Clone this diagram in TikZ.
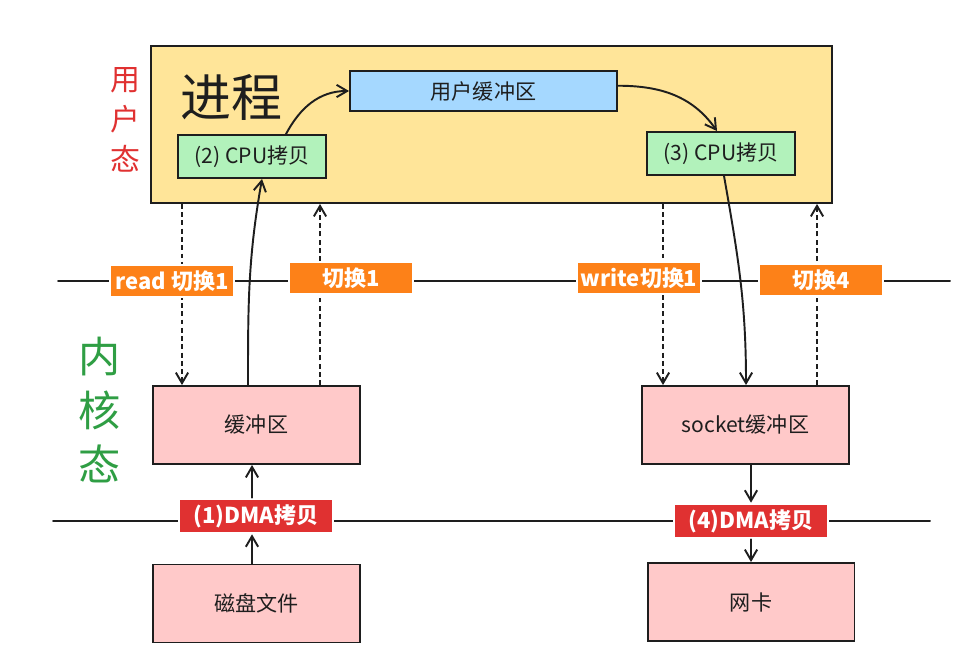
\documentclass[tikz,border=0pt]{standalone}
\usepackage{fontspec}
\setmainfont{Noto Sans CJK SC}
\usetikzlibrary{arrows.meta,backgrounds}
\definecolor{pyellow}{HTML}{FFE599}
\definecolor{ublue}{HTML}{A5D8FF}
\definecolor{cgreen}{HTML}{B2F2BB}
\definecolor{kpink}{HTML}{FFC9C9}
\definecolor{sorange}{HTML}{FD8118}
\definecolor{dred}{HTML}{E03131}
\definecolor{ured}{HTML}{E03131}
\definecolor{kgreen}{HTML}{2F9E44}
\definecolor{ink}{HTML}{1E1E1E}
\tikzset{
  box/.style={draw=ink, line width=1.1pt, inner sep=0pt, text=ink},
  cpubox/.style={box, fill=cgreen, minimum width=2.96cm, minimum height=0.86cm},
  pinkbox/.style={box, fill=kpink, minimum width=4.14cm, minimum height=1.56cm},
  swtag/.style={fill=sorange, draw=white, line width=1.5pt, text=white, inner sep=0pt,
    font=\fontsize{12.5}{14}\selectfont\bfseries, minimum width=2.48cm, minimum height=0.64cm},
  dmatag/.style={swtag, fill=dred, minimum width=3.08cm, minimum height=0.68cm},
  wire/.style={draw=ink, line width=1.1pt, line cap=round, line join=round},
  dsh/.style={wire, dash pattern=on 2.8pt off 1.9pt, line cap=butt},
}
\begin{document}
\begin{tikzpicture}[x=0.02cm, y=-0.02cm, font=\fontsize{12}{14}\selectfont,
  >={Straight Barb[length=6pt,width=7pt]}]
\useasboundingbox (0,0) rectangle (962,666);
% user space
\node[box, fill=pyellow, minimum width=13.62cm, minimum height=3.14cm] (proc) at (491.5,124.5) {};
\node[text=ink, font=\fontsize{29}{32}\selectfont] (jc) at (231,97) {进程};
\node[box, fill=ublue, minimum width=5.34cm, minimum height=0.8cm] (ubuf) at (483.5,91) {用户缓冲区};
\node[cpubox] (cpua) at (252,156.5) {(2) CPU拷贝};
\node[cpubox] (cpub) at (721,153.5) {(3) CPU拷贝};
\node[text=ured, align=center, font=\fontsize{17}{22.7}\selectfont] (yhz) at (125,120) {用\\户\\态};
% kernel space
\node[text=kgreen, align=center, font=\fontsize{24}{31}\selectfont] (nhz) at (100,410) {内\\核\\态};
\node[pinkbox] (kbuf) at (256.5,425) {缓冲区};
\node[pinkbox] (sbuf) at (745.5,425) {socket缓冲区};
\node[pinkbox] (disk) at (256.5,603.5) {磁盘文件};
\node[pinkbox] (nic) at (751,602) {网卡};
% tags
\node[swtag] (rd) at (172,281) {read 切换1};
\node[swtag] (swa) at (351,278) {切换1};
\node[swtag] (wr) at (639,278) {write切换1};
\node[swtag] (swd) at (821,280) {切换4};
\node[dmatag] (dma1) at (256,516) {(1)DMA拷贝};
\node[dmatag] (dma4) at (751,521) {(4)DMA拷贝};
\path (58,281) coordinate (la) (950,281) coordinate (lb) (53,521) coordinate (lc) (930,521) coordinate (ld)
  (182,0) coordinate (xa) (320,0) coordinate (xb) (663,0) coordinate (xc) (817,0) coordinate (xd)
  (248,0) coordinate (k1) (262,0) coordinate (c1) (286,0) coordinate (c2) (717,0) coordinate (b1)
  (724,0) coordinate (c3) (746,0) coordinate (s1) (252,0) coordinate (d1) (751,0) coordinate (d4);
\begin{pgfonlayer}{background}
\draw[wire] (la)--(lb) (lc)--(ld);
\draw[dsh, ->] (proc.south -| xa)--(kbuf.north -| xa);
\draw[dsh, ->] (kbuf.north -| xb)--(proc.south -| xb);
\draw[dsh, ->] (proc.south -| xc)--(sbuf.north -| xc);
\draw[dsh, ->] (sbuf.north -| xd)--(proc.south -| xd);
\end{pgfonlayer}
% copies
\draw[wire, ->] (kbuf.north -| k1) to[out=90, in=-100] (cpua.south -| c1);
\draw[wire, ->] (cpua.north -| c2) to[out=62, in=180] (ubuf.west);
\draw[wire, ->] ([yshift=3pt]ubuf.east) to[out=0, in=125] (cpub.north -| b1);
\draw[wire, ->] (cpub.south -| c3) to[out=-80, in=90] (sbuf.north -| s1);
\draw[wire, ->] (disk.north -| d1)--(dma1.south -| d1);
\draw[wire, ->] (dma1.north -| d1)--(kbuf.south -| d1);
\draw[wire, ->] (sbuf.south -| d4)--(dma4.north -| d4);
\draw[wire, ->] (dma4.south -| d4)--(nic.north -| d4);
\end{tikzpicture}
\end{document}
